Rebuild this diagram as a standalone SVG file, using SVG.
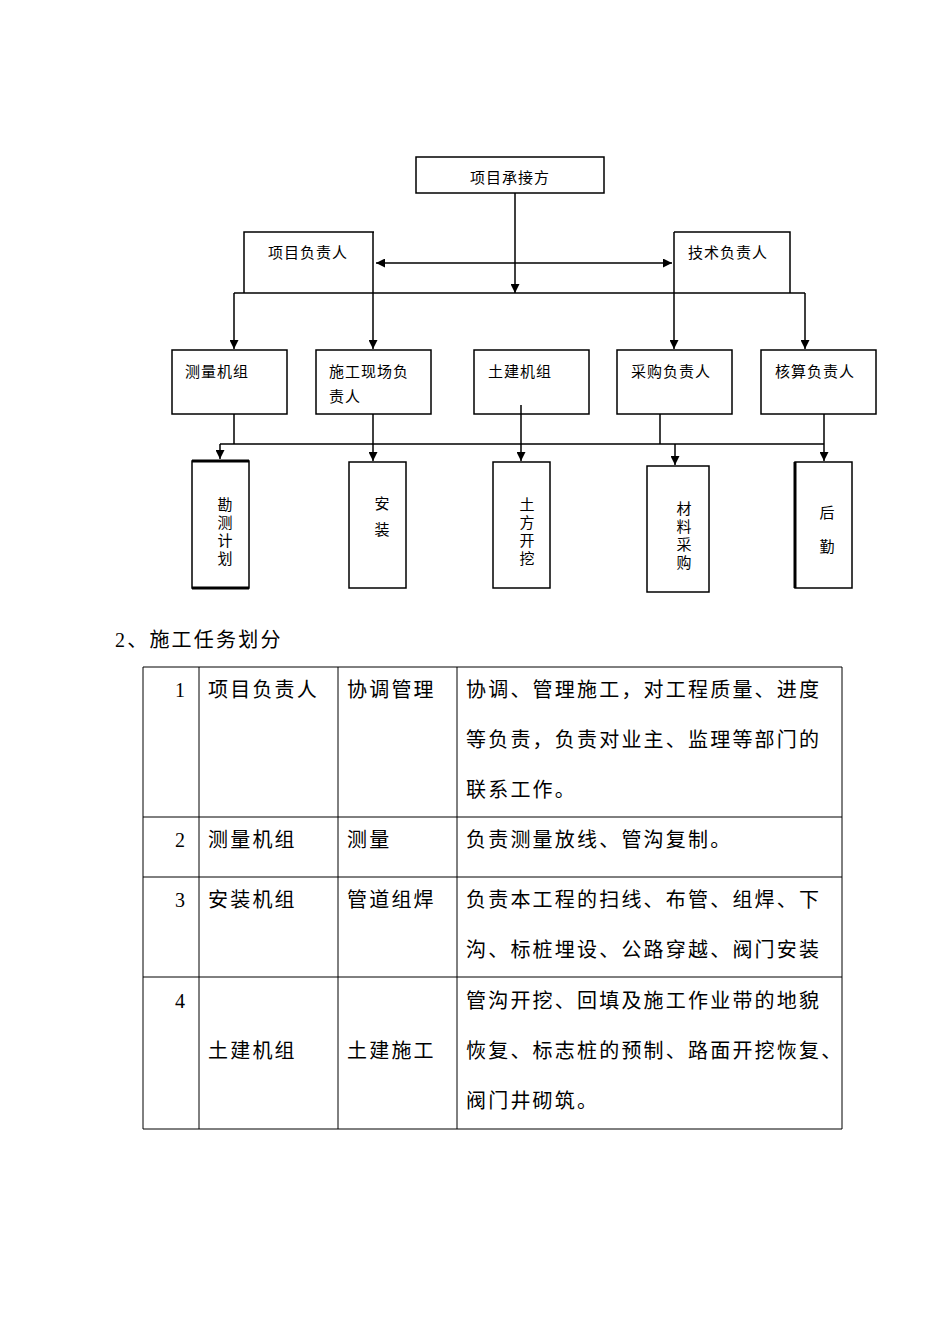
<svg xmlns="http://www.w3.org/2000/svg" width="950" height="1344" viewBox="0 0 950 1344">
<defs>
<style>
.b{fill:none;stroke:#000;stroke-width:1.5}
.l{fill:none;stroke:#000;stroke-width:1.5}
.t{font-family:"Liberation Serif","Noto Sans CJK SC",serif;font-size:15px;letter-spacing:1px;fill:#000}
.v{font-family:"Liberation Serif","Noto Sans CJK SC",serif;font-size:15px;fill:#000;text-anchor:middle}
.m{font-family:"Liberation Serif","Noto Sans CJK SC",serif;font-size:20px;letter-spacing:2.2px;fill:#000}
</style>
<marker id="a" viewBox="0 0 10 10" refX="10" refY="5" markerWidth="6" markerHeight="6" orient="auto-start-reverse"><path d="M0,0L10,5L0,10z" fill="#000"/></marker>
</defs>
<rect width="950" height="1344" fill="#fff"/>
<g id="connectors">
<path class="l" d="M515,193V293" marker-end="url(#a)"/>
<path class="l" d="M376,263H672" marker-start="url(#a)" marker-end="url(#a)"/>
<path class="l" d="M234,293H805"/>
<path class="l" d="M234,293V349" marker-end="url(#a)"/>
<path class="l" d="M373,232V349" marker-end="url(#a)"/>
<path class="l" d="M674,232V349" marker-end="url(#a)"/>
<path class="l" d="M805,293V349" marker-end="url(#a)"/>
<path class="l" d="M234,414V444M220,444H824"/>
<path class="l" d="M220,444V459" marker-end="url(#a)"/>
<path class="l" d="M373,414V461" marker-end="url(#a)"/>
<path class="l" d="M521,405V461" marker-end="url(#a)"/>
<path class="l" d="M660,414V444"/>
<path class="l" d="M675,444V465" marker-end="url(#a)"/>
<path class="l" d="M824,414V461" marker-end="url(#a)"/>
</g>
<g id="n0"><rect class="b" x="416" y="157" width="188" height="36"/><text class="t" x="470" y="183">项目承接方</text></g>
<g id="n1"><path class="b" d="M244,293V232H374"/><text class="t" x="268" y="258">项目负责人</text></g>
<g id="n2"><path class="b" d="M674,232H790V293"/><text class="t" x="688" y="258">技术负责人</text></g>
<g id="n3"><rect class="b" x="172" y="350" width="115" height="64"/><text class="t" x="185" y="377">测量机组</text></g>
<g id="n4"><rect class="b" x="316" y="350" width="115" height="64"/><text class="t" x="329" y="377">施工现场负</text><text class="t" x="329" y="402">责人</text></g>
<g id="n5"><rect class="b" x="474" y="350" width="115" height="64"/><text class="t" x="488" y="377">土建机组</text></g>
<g id="n6"><rect class="b" x="617" y="350" width="115" height="64"/><text class="t" x="631" y="377">采购负责人</text></g>
<g id="n7"><rect class="b" x="761" y="350" width="115" height="64"/><text class="t" x="775" y="377">核算负责人</text></g>
<g id="n8"><rect class="b" x="192" y="461" width="57" height="127"/><path d="M192,461H249M192,588H249" stroke="#000" stroke-width="3"/><text class="v" x="225" y="510">勘</text><text class="v" x="225" y="528">测</text><text class="v" x="225" y="546">计</text><text class="v" x="225" y="564">划</text></g>
<g id="n9"><rect class="b" x="349" y="462" width="57" height="126"/><text class="v" x="382" y="509">安</text><text class="v" x="382" y="535">装</text></g>
<g id="n10"><rect class="b" x="493" y="462" width="57" height="126"/><text class="v" x="527" y="510">土</text><text class="v" x="527" y="528">方</text><text class="v" x="527" y="546">开</text><text class="v" x="527" y="564">挖</text></g>
<g id="n11"><rect class="b" x="647" y="466" width="62" height="126"/><text class="v" x="684" y="514">材</text><text class="v" x="684" y="532">料</text><text class="v" x="684" y="550">采</text><text class="v" x="684" y="568">购</text></g>
<g id="n12"><rect class="b" x="795" y="462" width="57" height="126"/><path d="M795,462V588" stroke="#000" stroke-width="3"/><text class="v" x="827" y="518">后</text><text class="v" x="827" y="552">勤</text></g>
<text class="m" x="115" y="647">2、施工任务划分</text>
<g id="table">
<path fill="none" stroke="#000" stroke-width="1" d="M143,667H842V1129H143ZM199,667V1129M338,667V1129M457,667V1129M143,817H842M143,877H842M143,977H842"/>
<g class="m">
<text x="175" y="697">1</text><text x="208" y="697">项目负责人</text><text x="347" y="697">协调管理</text>
<text x="466" y="697">协调、管理施工，对工程质量、进度</text>
<text x="466" y="747">等负责，负责对业主、监理等部门的</text>
<text x="466" y="797">联系工作。</text>
<text x="175" y="847">2</text><text x="208" y="847">测量机组</text><text x="347" y="847">测量</text><text x="466" y="847">负责测量放线、管沟复制。</text>
<text x="175" y="907">3</text><text x="208" y="907">安装机组</text><text x="347" y="907">管道组焊</text>
<text x="466" y="907">负责本工程的扫线、布管、组焊、下</text>
<text x="466" y="957">沟、标桩埋设、公路穿越、阀门安装</text>
<text x="175" y="1008">4</text><text x="208" y="1058">土建机组</text><text x="347" y="1058">土建施工</text>
<text x="466" y="1008">管沟开挖、回填及施工作业带的地貌</text>
<text x="466" y="1058">恢复、标志桩的预制、路面开挖恢复、</text>
<text x="466" y="1108">阀门井砌筑。</text>
</g>
</g>
</svg>
